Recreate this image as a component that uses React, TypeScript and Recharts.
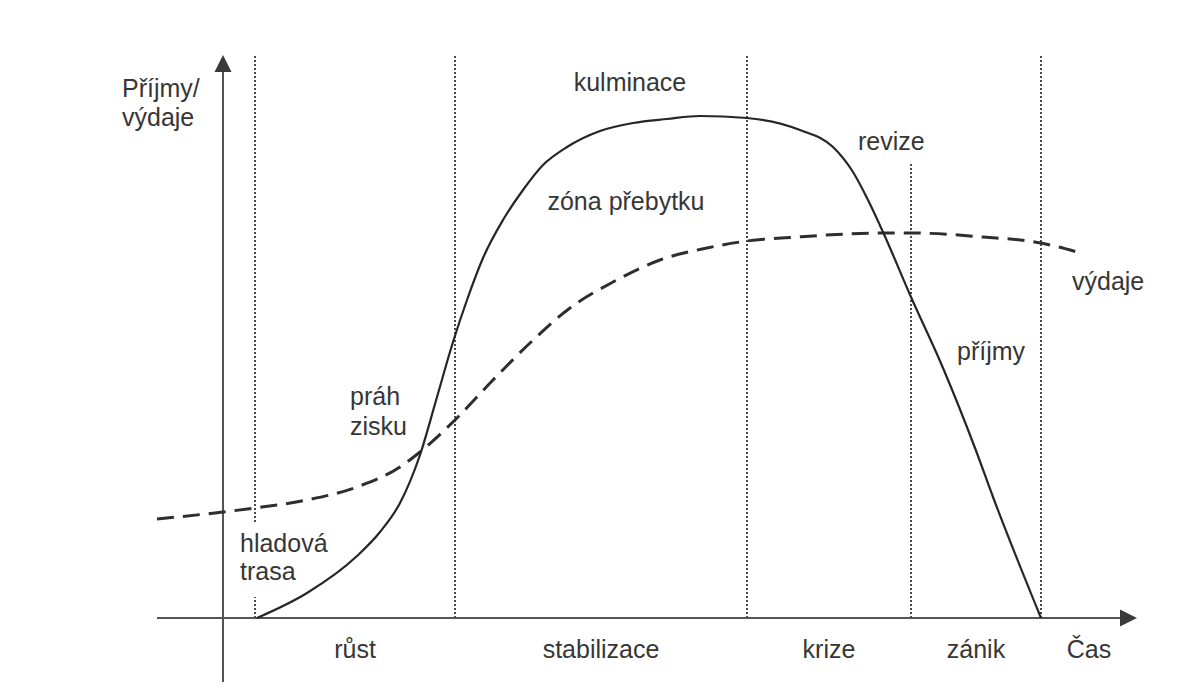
import React from 'react';
import { ComposedChart, Line, XAxis, YAxis, ReferenceLine, ReferenceDot } from 'recharts';

// Příjmy (revenue) – solid curve
const revenueT = [3.4, 8.4, 13.4, 15.7, 17.7, 19.7, 21.4, 23.0, 24.4, 26.0, 28.0, 30.0, 32.0, 34.4, 37.7, 41.0, 44.4, 47.7, 52.4, 57.7, 61.0, 63.0, 64.5, 66.0, 68.8, 72.0, 75.2, 77.0, 81.8];
const revenueV = [0.0, 2.5, 6.2, 8.6, 11.5, 16.3, 22.1, 27.6, 31.8, 36.0, 39.8, 42.8, 45.3, 47.1, 48.7, 49.5, 49.9, 50.2, 50.0, 48.8, 47.1, 44.6, 41.8, 38.6, 32.1, 25.0, 17.0, 12.1, 0.0];

// Výdaje (expenses) – dashed curve
const costT = [-6.6, 0, 3.2, 8.4, 13.4, 17.7, 19.7, 23.2, 27.0, 30.7, 34.7, 39.0, 43.7, 48.4, 52.4, 57.4, 66.0, 68.8, 76.0, 81.8, 85.4];
const costV = [9.9, 10.6, 11.0, 11.8, 13.1, 15.1, 16.6, 19.8, 23.8, 27.5, 31.0, 33.6, 35.8, 37.0, 37.7, 38.1, 38.5, 38.5, 38.1, 37.5, 36.6];

// Phase boundaries (dotted verticals) and phase names
const phaseBounds = [3.2, 23.2, 52.4, 68.8, 81.8];
const boundTops = [56.3, 56.3, 56.3, 45.6, 56.3];
// gap in a boundary line where a label sits (first line, behind "hladová trasa")
const boundGapLow = [2.1, null, null, null, null];
const boundGapHigh = [9.6, null, null, null, null];
const phaseNames = ['růst', 'stabilizace', 'krize', 'zánik', 'Čas'];
const phaseLabelV = -3.1;

// Axes extents
const xMin = -11;
const xMax = 91.4;
const yMin = -6.4;
const yMax = 56.3;
const xAxisStart = -6.6;

// Annotations
const annTexts = ['Příjmy/', 'výdaje', 'kulminace', 'zóna přebytku', 'revize', 'výdaje', 'příjmy', 'práh', 'zisku', 'hladová', 'trasa'];
const annT = [-10.1, -10.1, 40.7, 40.3, 63.5, 84.9, 73.4, 12.7, 12.7, 1.7, 1.7];
const annV = [53.0, 50.1, 53.6, 41.7, 47.7, 33.7, 26.7, 22.2, 19.2, 7.5, 4.7];
const annAnchor = ['start', 'start', 'middle', 'middle', 'start', 'start', 'start', 'start', 'start', 'start', 'start'];

const revenueData = revenueT.map((t, i) => ({ t, v: revenueV[i] }));
const costData = costT.map((t, i) => ({ t, v: costV[i] }));

const boundSegments: { x: number; from: number; to: number }[] = [];
phaseBounds.forEach((b, i) => {
  const lo = boundGapLow[i];
  const hi = boundGapHigh[i];
  if (lo != null && hi != null) {
    boundSegments.push({ x: b, from: 0, to: lo });
    boundSegments.push({ x: b, from: hi, to: boundTops[i] });
  } else {
    boundSegments.push({ x: b, from: 0, to: boundTops[i] });
  }
});

const phaseCenters = phaseNames.map((_, i) =>
  i < phaseBounds.length - 1 ? (phaseBounds[i] + phaseBounds[i + 1]) / 2 : (phaseBounds[i] + xMax) / 2
);

const FONT = '"Liberation Sans", Arial, sans-serif';
const TEXT_COLOR = '#363636';

const ArrowLine = (p: any) => {
  const { x1, y1, x2, y2 } = p;
  const dx = x2 - x1;
  const dy = y2 - y1;
  const len = Math.hypot(dx, dy) || 1;
  const ux = dx / len;
  const uy = dy / len;
  const L = 17;
  const W = 8.5;
  const bx = x2 - ux * L;
  const by = y2 - uy * L;
  const pts = `${x2},${y2} ${bx - uy * W},${by + ux * W} ${bx + uy * W},${by - ux * W}`;
  return (
    <g>
      <line x1={x1} y1={y1} x2={bx} y2={by} stroke="#555" strokeWidth={2} />
      <polygon points={pts} fill="#3a3a3a" />
    </g>
  );
};

const makeLabel = (txt: string, anchor: string) => (p: any) => (
  <text
    x={p.cx}
    y={p.cy}
    dy="0.355em"
    textAnchor={anchor as any}
    fontSize={25}
    fill={TEXT_COLOR}
    fontFamily={FONT}
  >
    {txt}
  </text>
);

export default function App() {
  return (
    <div style={{ width: 1195, height: 692, background: '#fff' }}>
      <ComposedChart
        width={1195}
        height={692}
        margin={{ top: 47, right: 66, bottom: 18, left: 105 }}
      >
        <XAxis type="number" dataKey="t" domain={[xMin, xMax]} hide allowDataOverflow />
        <YAxis type="number" domain={[yMin, yMax]} hide allowDataOverflow />

        {boundSegments.map((s, i) => (
          <ReferenceLine
            key={'b' + i}
            segment={[{ x: s.x, y: s.from }, { x: s.x, y: s.to }]}
            stroke="#4a4a4a"
            strokeWidth={2}
            strokeDasharray="2 2"
            ifOverflow="visible"
          />
        ))}

        <ReferenceLine
          segment={[{ x: xAxisStart, y: 0 }, { x: xMax, y: 0 }]}
          shape={ArrowLine}
          ifOverflow="visible"
        />
        <ReferenceLine
          segment={[{ x: 0, y: yMin }, { x: 0, y: yMax }]}
          shape={ArrowLine}
          ifOverflow="visible"
        />

        <Line
          data={costData}
          dataKey="v"
          type="monotone"
          stroke="#2e2e2e"
          strokeWidth={3}
          strokeDasharray="17 9"
          dot={false}
          activeDot={false}
          isAnimationActive={false}
        />
        <Line
          data={revenueData}
          dataKey="v"
          type="monotone"
          stroke="#262626"
          strokeWidth={2.2}
          dot={false}
          activeDot={false}
          isAnimationActive={false}
        />

        {phaseNames.map((n, i) => (
          <ReferenceDot
            key={'p' + i}
            x={phaseCenters[i]}
            y={phaseLabelV}
            r={0}
            ifOverflow="visible"
            shape={makeLabel(n, 'middle')}
          />
        ))}

        {annTexts.map((txt, i) => (
          <ReferenceDot
            key={'a' + i}
            x={annT[i]}
            y={annV[i]}
            r={0}
            ifOverflow="visible"
            shape={makeLabel(txt, annAnchor[i])}
          />
        ))}
      </ComposedChart>
    </div>
  );
}
